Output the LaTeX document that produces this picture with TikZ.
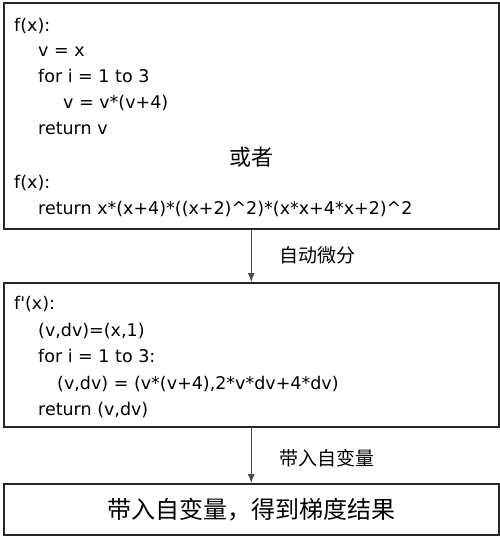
\documentclass[tikz,border=0pt]{standalone}
\usepackage{fontspec}
\setmainfont{DejaVu Sans}
\newfontfamily\cjk{Noto Sans CJK SC}
\usetikzlibrary{arrows.meta,positioning}

\tikzset{
  codebox/.style={rectangle,draw=black!85,line width=1.5pt,minimum width=495pt,inner sep=0pt,anchor=north west},
  codeline/.style={anchor=base west,inner sep=0pt,font=\fontsize{17.5}{26}\selectfont},
  flow/.style={draw=black!70,line width=0.9pt,-{Latex[length=9pt,width=7pt]}},
  flowlabel/.style={inner sep=0pt,font=\cjk\fontsize{19}{22}\selectfont}
}

\begin{document}
\begin{tikzpicture}[x=1pt,y=-1pt]
\useasboundingbox (0,0) rectangle (500,536);
% the three boxes
\node [codebox,minimum height=226pt] (prog) at (3,2) {};
\node [codebox,minimum height=144pt] (deriv) at (3,282) {};
\node [codebox,minimum height=51pt] (grad) at (3,483) {\cjk\fontsize{24}{28}\selectfont 带入自变量，得到梯度结果};
% original program
\node [codeline] (p1) at (14,31) {f(x):};
\node [codeline] (p2) at (38,56) {v = x};
\node [codeline] (p3) at (38,82) {for i = 1 to 3};
\node [codeline] (p4) at (63,108) {v = v*(v+4)};
\node [codeline] (p5) at (38,134) {return v};
\node [inner sep=0pt,font=\cjk\fontsize{22}{26}\selectfont] (alt) at (251,157) {或者};
\node [codeline] (p6) at (14,188) {f(x):};
\node [codeline] (p7) at (38,214) {return x*(x+4)*((x+2)\textasciicircum 2)*(x*x+4*x+2)\textasciicircum 2};
% differentiated program
\node [codeline] (d1) at (14,309) {f\textquotesingle(x):};
\node [codeline] (d2) at (38,336) {(v,dv)=(x,1)};
\node [codeline] (d3) at (38,362) {for i = 1 to 3:};
\node [codeline] (d4) at (57,389) {(v,dv) = (v*(v+4),2*v*dv+4*dv)};
\node [codeline] (d5) at (38,415) {return (v,dv)};
% steps
\draw [flow] (prog.south) -- (deriv.north) node [flowlabel,midway,right=28pt] {自动微分};
\draw [flow] (deriv.south) -- (grad.north) node [flowlabel,midway,right=28pt,yshift=-3pt] {带入自变量};
\end{tikzpicture}
\end{document}
